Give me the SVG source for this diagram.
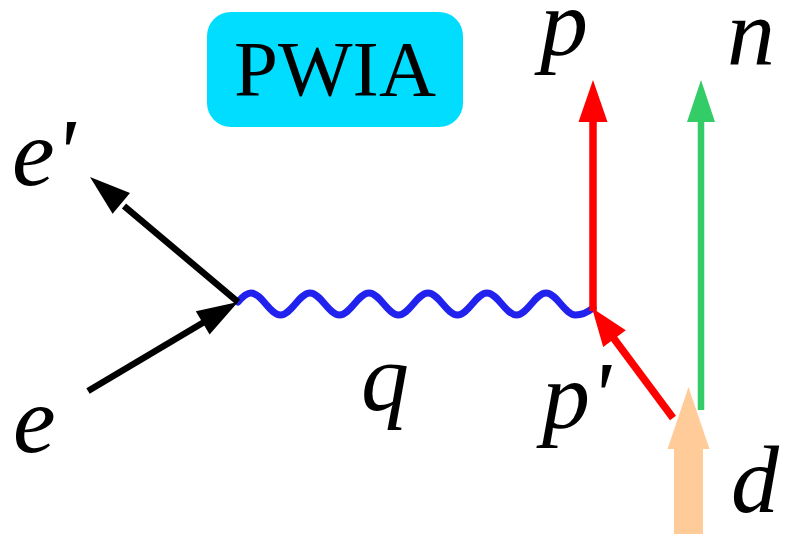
<svg xmlns="http://www.w3.org/2000/svg" width="785" height="534" viewBox="0 0 785 534">
<rect width="785" height="534" fill="#fff"/>
<g id="pwia">
<rect x="207" y="12" width="256" height="115" rx="24" fill="#00DDFF"/>
<text transform="translate(335,95) scale(1.975)" x="0" y="0" font-family="'Liberation Serif'" font-size="40" text-anchor="middle" fill="#000">PWIA</text>
</g>
<g id="connectors">
<path id="photon" d="M238,302 C243,296 247,293 251,293 C261.74,293 269.76,315 280.5,315 S299.26,293 310,293 S328.76,315 339.5,315 S358.26,293 369,293 S387.76,315 398.5,315 S417.26,293 428,293 S446.76,315 457.5,315 S476.26,293 487,293 S505.76,315 516.5,315 S535.26,293 546,293 S564.76,315 575.5,315 C582,315 588,312 593,308" fill="none" stroke="#2222EE" stroke-width="7" stroke-linecap="round"/>
<g stroke="#000" stroke-width="6.5">
<line x1="238" y1="302" x2="124" y2="206"/>
<line x1="88" y1="391" x2="205" y2="321.5"/>
</g>
<polygon points="90,177 130,193.1 112.6,213.7" fill="#000"/>
<polygon points="238,302 209.6,334.5 195.8,311.3" fill="#000"/>
<g stroke="#FF0000" stroke-width="7.5">
<line x1="673" y1="418" x2="612" y2="336"/>
<line x1="593" y1="311" x2="593" y2="118"/>
</g>
<polygon points="592,308 625.8,330.3 603.2,346.9" fill="#FF0000"/>
<polygon points="593,80 607.5,122 578.5,122" fill="#FF0000"/>
<line x1="701" y1="410" x2="701" y2="118" stroke="#33CC66" stroke-width="6.5"/>
<polygon points="701,80 715,122 687,122" fill="#33CC66"/>
<rect x="674" y="447" width="29" height="87" fill="#FFCC99"/>
<polygon points="688.5,387 709.5,449 667.5,449" fill="#FFCC99"/>
</g>
<g id="label-e-prime"><text transform="translate(12,185) scale(2.4)" font-family="'Liberation Serif'" font-style="italic" font-size="40">e'</text></g>
<g id="label-e"><text transform="translate(13,452) scale(2.4)" font-family="'Liberation Serif'" font-style="italic" font-size="40">e</text></g>
<g id="label-q"><text transform="translate(361,410) scale(2.4)" font-family="'Liberation Serif'" font-style="italic" font-size="40">q</text></g>
<g id="label-p"><text transform="translate(540,55) scale(2.4)" font-family="'Liberation Serif'" font-style="italic" font-size="40">p</text></g>
<g id="label-n"><text transform="translate(727,65) scale(2.4)" font-family="'Liberation Serif'" font-style="italic" font-size="40">n</text></g>
<g id="label-p-prime"><text transform="translate(542,428) scale(2.4)" font-family="'Liberation Serif'" font-style="italic" font-size="40">p'</text></g>
<g id="label-d"><text transform="translate(731,512) scale(2.4)" font-family="'Liberation Serif'" font-style="italic" font-size="40">d</text></g>
</svg>
